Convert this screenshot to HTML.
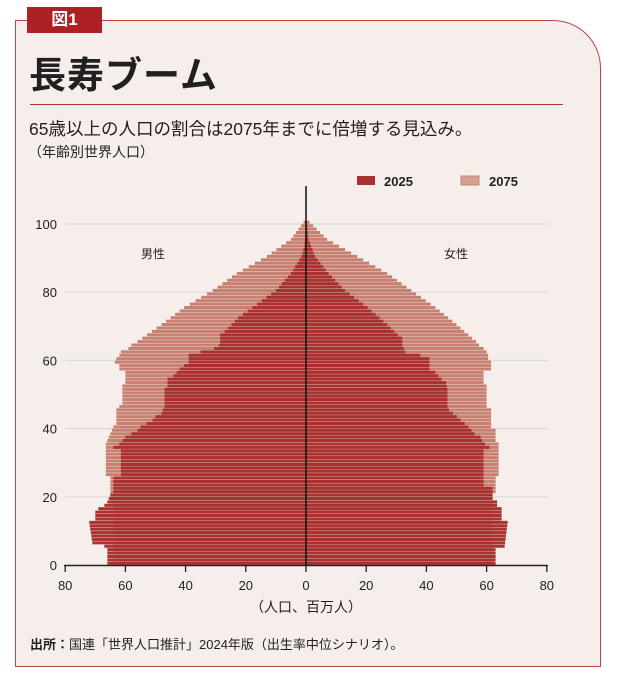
<!DOCTYPE html>
<html><head><meta charset="utf-8"><style>
body{margin:0;width:617px;height:685px;background:#fff;font-family:"Liberation Sans","Noto Sans CJK JP",sans-serif;overflow:hidden}
.card{position:absolute;left:15px;top:20px;width:586px;height:647px;border:1.3px solid #b8453f;border-top-right-radius:48px;background:#f5eeea;box-sizing:border-box}
.tag{position:absolute;left:27px;top:7px;width:75px;height:26px;background:#ad2024;color:#fff;font-size:17px;font-weight:bold;text-align:center;line-height:26px}
.t{position:absolute;white-space:nowrap;color:#231f20}
</style></head><body>
<div class="card"></div>
<div class="tag">図1</div>
<div class="t" style="left:29px;top:45px;font-size:37px;font-weight:bold;letter-spacing:1px">長寿ブーム</div>
<div style="position:absolute;left:30px;top:104px;width:533px;height:1px;background:#a83a35"></div>
<div class="t" style="left:29px;top:116px;font-size:17.5px">65歳以上の人口の割合は2075年までに倍増する見込み。</div>
<div class="t" style="left:28px;top:142px;font-size:14px">（年齢別世界人口）</div>
<div class="t" style="left:30px;top:634px;font-size:13px"><b>出所：</b>国連「世界人口推計」2024年版（出生率中位シナリオ）。</div>
<svg id="s" width="617" height="685" style="position:absolute;left:0;top:0" font-family="Liberation Sans, Noto Sans CJK JP, sans-serif">
<g id="grid"></g><g id="bars"></g>
<rect x="357" y="176" width="18" height="9" fill="#a93230"/>
<text x="384" y="186" font-size="13" fill="#231f20" font-weight="bold">2025</text>
<rect x="461" y="176" width="18" height="9" fill="#d4a192" stroke="#c98375"/>
<text x="489" y="186" font-size="13" fill="#231f20" font-weight="bold">2075</text>
<text x="153" y="258" font-size="12" fill="#231f20" text-anchor="middle">男性</text>
<text x="456" y="258" font-size="12" fill="#231f20" text-anchor="middle">女性</text>
<text x="306" y="612" font-size="14" fill="#231f20" text-anchor="middle">（人口、百万人）</text>
<g id="ax"></g>
</svg>
<script>
function interp(pts){var a=[];for(var i=0;i<=100;i++){for(var k=0;k<pts.length-1;k++){if(i>=pts[k][0]&&i<=pts[k+1][0]){var t=(i-pts[k][0])/((pts[k+1][0]-pts[k][0])||1);a[i]=pts[k][1]+t*(pts[k+1][1]-pts[k][1]);break;}}}return a;}
var m25=interp([[0,66],[4,66],[5,67],[6,71],[12,72],[13,70],[15,70],[16,69],[17,67],[18,66],[20,65],[21,64],[25,64],[26,61.5],[33,61.5],[34,64],[35,62],[36,61],[37,60],[38,58],[39,56],[40,55],[41,53],[42,51],[43,50],[44,48],[45,47.5],[46,47],[51,47],[52,46],[54,46],[55,44],[56,43],[57,42],[58,40.5],[59,39],[61,39],[62,35],[63,30.5],[64,29],[65,28.5],[67,28.5],[68,27],[72,22.5],[80,10],[85,5],[90,1.5],[93,0.5],[100,0.1]]);
var m75=interp([[0,64],[20,64],[21,65],[25,65],[26,66.5],[35,66.5],[40,64],[41,63],[45,63],[46,62],[47,61],[52,61],[53,60],[56,60],[57,62],[58,62],[59,63.5],[60,63],[61,62],[62,61.5],[63,59],[64,58],[65,56],[70,48],[75,40.5],[80,31],[85,23],[90,13],[95,5],[100,0.8]]);
var f25=interp([[0,63],[4,63],[5,66],[12,67],[13,65],[16,65],[17,63.5],[18,63.5],[19,62],[22,62],[23,59],[33,59],[34,61],[35,59.5],[36,58.5],[37,58],[38,56],[40,54],[45,47.5],[46,47],[51,47],[53,46.5],[54,45],[56,43],[57,41],[60,41],[61,38],[62,33],[63,32.5],[64,32],[66,32],[67,30.5],[70,27],[75,20.5],[80,13],[85,7.5],[90,3],[95,0.8],[100,0.3]]);
var f75=interp([[0,62],[20,62],[21,63],[25,63],[26,64],[35,64],[36,63],[39,63],[40,61.5],[45,61.5],[46,60],[52,60],[53,59],[56,59],[57,61.5],[59,61.5],[60,60.5],[61,60.5],[62,60],[63,59],[64,57.5],[65,56.5],[70,50],[75,43],[80,35],[85,27],[90,17],[95,7],[100,1.2]]);
var NS="http://www.w3.org/2000/svg";
function el(p,n,a,txt){var e=document.createElementNS(NS,n);for(var k in a)e.setAttribute(k,a[k]);if(txt!==undefined)e.textContent=txt;document.getElementById(p).appendChild(e);}
var X0=306,U=3.01,Y0=565,H=3.41;
for(var g=0;g<=100;g+=20){var y=Y0-g*H;if(g>0)el('grid','line',{x1:65,x2:548,y1:y,y2:y,stroke:'#d9dcdc','stroke-width':1.2});el('ax','text',{x:57,y:y+5,'font-size':13,'text-anchor':'end',fill:'#231f20'},g);}
for(var i=0;i<=100;i++){var y=Y0-(i+1)*H+0.2,h=H-0.4;
el('bars','rect',{x:X0-m75[i]*U,y:y,width:m75[i]*U,height:h,fill:'#c88073'});
el('bars','rect',{x:X0,y:y,width:f75[i]*U,height:h,fill:'#c88073'});
el('bars','rect',{x:X0-m25[i]*U,y:y,width:m25[i]*U,height:h,fill:'#a93230'});
el('bars','rect',{x:X0,y:y,width:f25[i]*U,height:h,fill:'#a93230'});}
el('ax','line',{x1:306,x2:306,y1:186,y2:565,stroke:'#111','stroke-width':1.5});
el('ax','line',{x1:64,x2:548,y1:565.5,y2:565.5,stroke:'#222','stroke-width':1.5});
var labs=[80,60,40,20,0,20,40,60,80];
for(var j=0;j<9;j++){var x=X0+(j-4)*20*U;el('ax','line',{x1:x,x2:x,y1:565,y2:572,stroke:'#222','stroke-width':1.3});el('ax','text',{x:x,y:590,'font-size':13,'text-anchor':'middle',fill:'#231f20'},labs[j]);}
</script>
</body></html>
